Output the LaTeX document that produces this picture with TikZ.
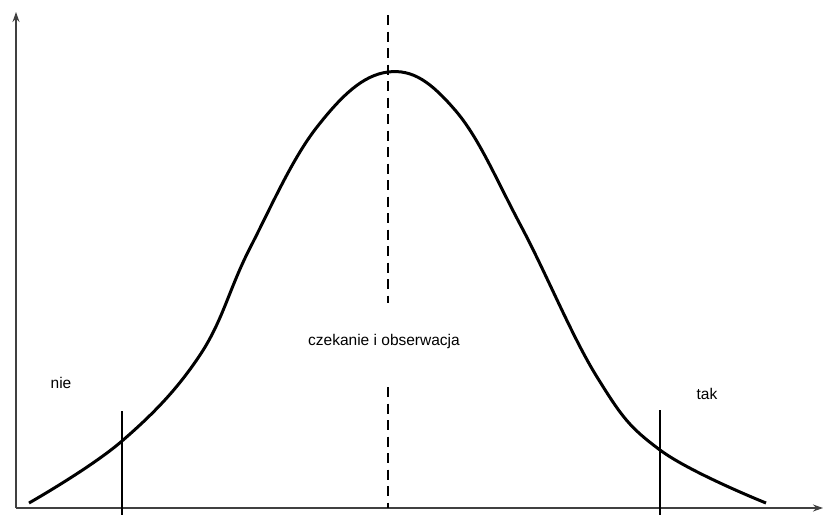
\documentclass[tikz,border=0pt]{standalone}
\usepackage{fontspec}
\setmainfont{Liberation Sans}
\usetikzlibrary{arrows.meta}
\begin{document}
\begin{tikzpicture}[x=1pt,y=-1pt,
  axis/.style={line width=1.3pt,draw=black!75,-{Stealth[length=10pt,width=7pt]}},
  bound/.style={line width=1.2pt,draw=black},
  curve/.style={line width=3pt,draw=black},
  middash/.style={line width=1.6pt,draw=black,dash pattern=on 10pt off 6.5pt},
  lbl/.style={font=\fontsize{15.5}{17}\selectfont,inner sep=0pt}]
\useasboundingbox (0,0) rectangle (824,515);
\coordinate (O) at (16,508);
\coordinate (ytop) at (16,12);
\coordinate (xend) at (823,508);
\draw[axis] (O) -- (ytop);
\draw[axis] (O) -- (xend);
\coordinate (dtop) at (388,15);
\coordinate (dmid1) at (388,303);
\coordinate (dmid2) at (388,387);
\coordinate (dbot) at (388,508);
\draw[middash] (dtop) -- (dmid1);
\draw[middash] (dmid2) -- (dbot);
\coordinate (ltop) at (122,411);
\coordinate (lbot) at (122,515);
\coordinate (rtop) at (660,410);
\coordinate (rbot) at (660,515);
\draw[bound] (ltop) -- (lbot);
\draw[bound] (rtop) -- (rbot);
\draw[curve] plot[smooth,tension=0.65] coordinates {
 (29,503) (122,441) (200,355) (250,248) (317,127) (388,72)
 (455,110) (521,226) (597,377) (660,450) (766,503)};
\node[lbl] (nie) at (61,383) {nie};
\node[lbl] (tak) at (707,394) {tak};
\node[lbl] (mid) at (384,341) {czekanie i obserwacja};
\end{tikzpicture}
\end{document}
